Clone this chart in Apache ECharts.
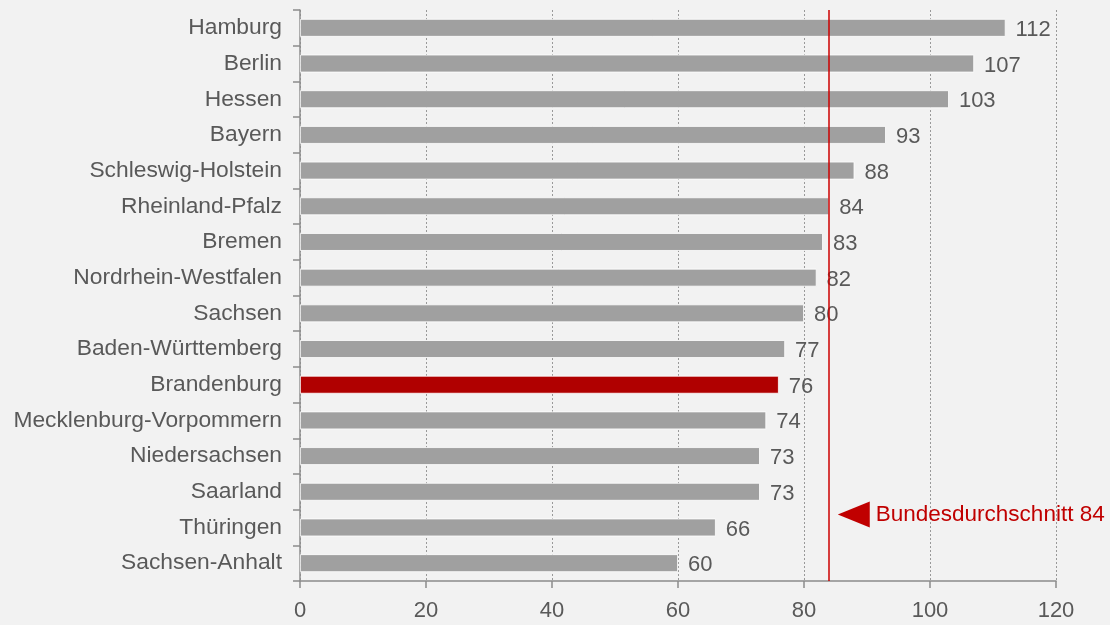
<!DOCTYPE html>
<html style="height:100%;">
<head>
    <meta charset="utf-8">
    <script src="https://cdn.jsdelivr.net/npm/echarts@6/dist/echarts.min.js"></script>
</head>
<body style="height:100%;margin:0;background:#f2f2f2;">
    <div id="main" style="width:1110px;height:625px;"></div>
</body>
</html>
<script>
    // Länder und Werte
    var laender = ['Hamburg', 'Berlin', 'Hessen', 'Bayern', 'Schleswig-Holstein', 'Rheinland-Pfalz',
        'Bremen', 'Nordrhein-Westfalen', 'Sachsen', 'Baden-Württemberg', 'Brandenburg',
        'Mecklenburg-Vorpommern', 'Niedersachsen', 'Saarland', 'Thüringen', 'Sachsen-Anhalt'];
    var werte = [112, 107, 103, 93, 88, 84, 83, 82, 80, 77, 76, 74, 73, 73, 66, 60];
    var durchschnitt = 84;
    var hervorgehoben = 'Brandenburg';
    var xTicks = [0, 20, 40, 60, 80, 100, 120];

    var textFont = '"Liberation Sans", Arial, sans-serif';

    var barData = [];
    for (var i = 0; i < laender.length; i++) {
        barData.push({
            value: werte[i],
            itemStyle: {color: laender[i] === hervorgehoben ? '#b00000' : '#a0a0a0'}
        });
    }

    var myChart = echarts.init(document.getElementById('main'));
    var option = {
        backgroundColor: '#f2f2f2',
        animation: false,
        grid: {left: 300, right: 54, top: 10, bottom: 44},
        xAxis: {
            type: 'value',
            min: xTicks[0],
            max: xTicks[xTicks.length - 1],
            interval: 20,
            axisLine: {show: true, lineStyle: {color: '#8c8c8c', width: 1.5}},
            axisTick: {show: true, length: 7, lineStyle: {color: '#8c8c8c', width: 1.5}},
            axisLabel: {color: '#595959', fontSize: 22, fontFamily: textFont, margin: 19},
            splitLine: {show: true, lineStyle: {color: '#999999', type: [2, 2], width: 1}}
        },
        yAxis: {
            type: 'category',
            inverse: true,
            data: laender,
            axisLine: {show: true, lineStyle: {color: '#8c8c8c', width: 1.5}},
            axisTick: {show: true, length: 7, lineStyle: {color: '#8c8c8c', width: 1.5}},
            axisLabel: {color: '#595959', fontSize: 22.8, fontFamily: textFont, margin: 18, padding: [3, 0, 0, 0]}
        },
        series: [
            {
                type: 'bar',
                data: barData,
                barCategoryGap: '50%',
                itemStyle: {borderColor: '#ffffff', borderWidth: 0.8},
                label: {
                    show: true,
                    position: 'right',
                    distance: 10,
                    offset: [0, 2],
                    color: '#595959',
                    fontSize: 22,
                    fontFamily: textFont
                },
                markLine: {
                    silent: true,
                    symbol: 'none',
                    label: {show: false},
                    lineStyle: {color: '#cc0000', width: 1.5, type: 'solid'},
                    data: [{xAxis: durchschnitt}]
                },
                markPoint: {
                    silent: true,
                    symbol: 'triangle',
                    symbolRotate: 90,
                    symbolSize: [26, 32],
                    symbolOffset: [0, -13],
                    itemStyle: {color: '#c00000'},
                    label: {
                        show: true,
                        position: 'right',
                        distance: 6,
                        color: '#c00000',
                        fontSize: 22.5,
                        fontFamily: textFont,
                        formatter: 'Bundesdurchschnitt ' + durchschnitt
                    },
                    data: [{coord: [87.9, 'Thüringen']}]
                }
            }
        ]
    };
    myChart.setOption(option);
</script>
